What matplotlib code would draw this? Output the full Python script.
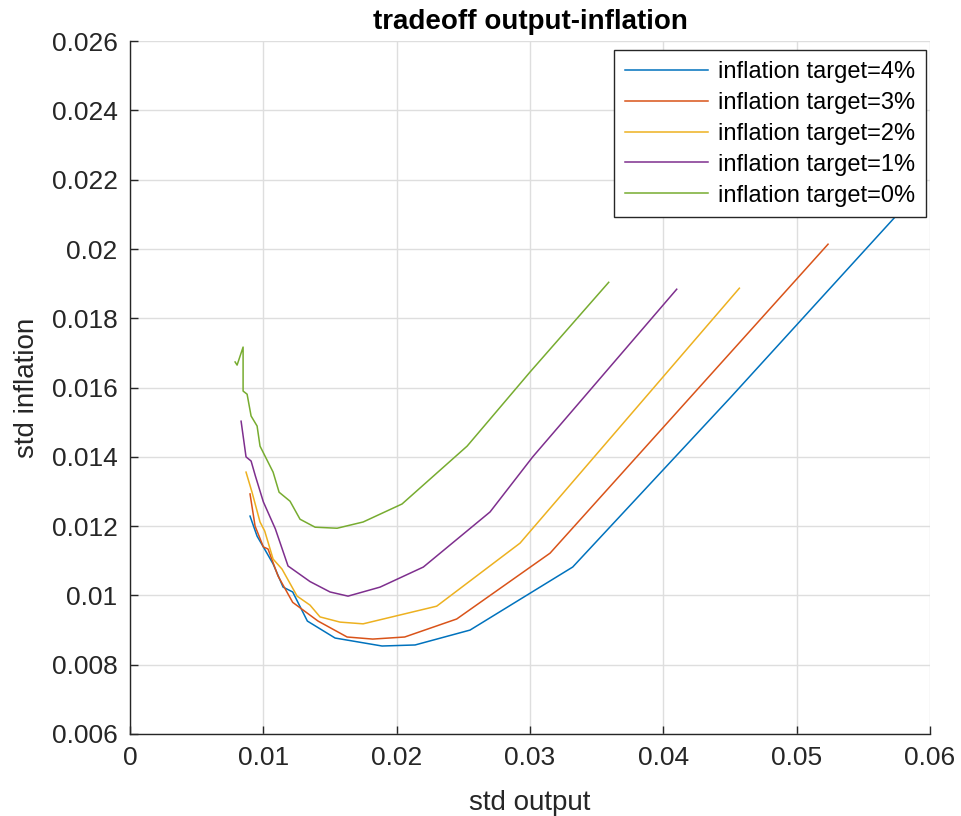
import numpy as np
import matplotlib
matplotlib.use("Agg")
import matplotlib.pyplot as plt

plt.rcParams['font.family'] = ['Liberation Sans', 'DejaVu Sans']

# std output / std inflation for each inflation target
x4 = [0.0090, 0.00953, 0.0100, 0.01073, 0.01148, 0.0122, 0.0133, 0.01538, 0.0189, 0.02138, 0.0255, 0.0332, 0.0450, 0.0585]
y4 = [0.01229, 0.01171, 0.01140, 0.01091, 0.01024, 0.0101, 0.00926, 0.00877, 0.00854, 0.00857, 0.0090, 0.01082, 0.01570, 0.02140]

x3 = [0.0090, 0.00938, 0.0100, 0.01035, 0.0111, 0.0122, 0.0141, 0.01628, 0.0182, 0.0206, 0.0245, 0.0315, 0.05235]
y3 = [0.01293, 0.0120, 0.0114, 0.01134, 0.01056, 0.0098, 0.00926, 0.0088, 0.00874, 0.0088, 0.00932, 0.01122, 0.02014]

x2 = [0.0087, 0.00915, 0.00975, 0.0101, 0.01073, 0.0114, 0.01253, 0.0135, 0.01425, 0.01575, 0.01748, 0.0230, 0.02925, 0.0457]
y2 = [0.01356, 0.01298, 0.01212, 0.01186, 0.01105, 0.01076, 0.00998, 0.00972, 0.00938, 0.00923, 0.00918, 0.00969, 0.01151, 0.01887]

x1 = [0.00833, 0.0087, 0.00908, 0.0094, 0.0100, 0.0109, 0.01185, 0.0135, 0.0150, 0.01635, 0.01875, 0.0220, 0.0270, 0.0302, 0.0410]
y1 = [0.01503, 0.0140, 0.01388, 0.01345, 0.0127, 0.01192, 0.01085, 0.0104, 0.0101, 0.00998, 0.01024, 0.01082, 0.01241, 0.0140, 0.01884]

x0 = [0.00788, 0.00803, 0.00848, 0.00848, 0.00878, 0.00908, 0.00953, 0.00975, 0.01073, 0.01118, 0.0120, 0.01275, 0.01388, 0.01553, 0.01748, 0.0204, 0.02528, 0.0300, 0.0359]
y0 = [0.01674, 0.01665, 0.01717, 0.0159, 0.01581, 0.01518, 0.01489, 0.01431, 0.01356, 0.01298, 0.01272, 0.0122, 0.01197, 0.01194, 0.01212, 0.01264, 0.01431, 0.01645, 0.01904]

labels = ['inflation target=4%', 'inflation target=3%', 'inflation target=2%',
          'inflation target=1%', 'inflation target=0%']
colors = ['#0072BD', '#D95319', '#EDB120', '#7E2F8E', '#77AC30']

fig = plt.figure(figsize=(9.61, 8.16), dpi=100)
ax = fig.add_axes([0.1353, 0.1005, 0.8325, 0.849])

for xs, ys, lab, c in zip([x4, x3, x2, x1, x0], [y4, y3, y2, y1, y0], labels, colors):
    ax.plot(xs, ys, color=c, lw=1.1, label=lab)

ax.set_xlim(0, 0.06)
ax.set_ylim(0.006, 0.026)
ax.set_xticks(np.arange(0, 0.0601, 0.01))
ax.set_xticklabels(['0', '0.01', '0.02', '0.03', '0.04', '0.05', '0.06'])
ax.set_yticks(np.arange(0.006, 0.02601, 0.002))
ax.set_yticklabels(['0.006', '0.008', '0.01', '0.012', '0.014', '0.016',
                    '0.018', '0.02', '0.022', '0.024', '0.026'])

ax.grid(True, color='#dedede', lw=1.0)
ax.set_axisbelow(True)
for s in ['top', 'right']:
    ax.spines[s].set_visible(False)
for s in ['left', 'bottom']:
    ax.spines[s].set_color('#262626')
    ax.spines[s].set_linewidth(1.0)
ax.tick_params(direction='in', length=6, width=1, colors='#262626',
               labelsize=19, labelcolor='#262626', pad=9)

ax.set_title('tradeoff output-inflation', fontsize=20, fontweight='bold', pad=9)
ax.set_xlabel('std output', fontsize=20, color='#262626', labelpad=14)
ax.set_ylabel('std inflation', fontsize=20, color='#262626', labelpad=8)

leg = ax.legend(loc='upper right', bbox_to_anchor=(0.995, 0.987), borderaxespad=0,
                fontsize=17, fancybox=False, framealpha=1, edgecolor='#262626',
                handlelength=3.5, handletextpad=0.45, labelspacing=0.38,
                borderpad=0.45)
leg.get_frame().set_linewidth(1.0)

fig.savefig('out.png', dpi=100)
